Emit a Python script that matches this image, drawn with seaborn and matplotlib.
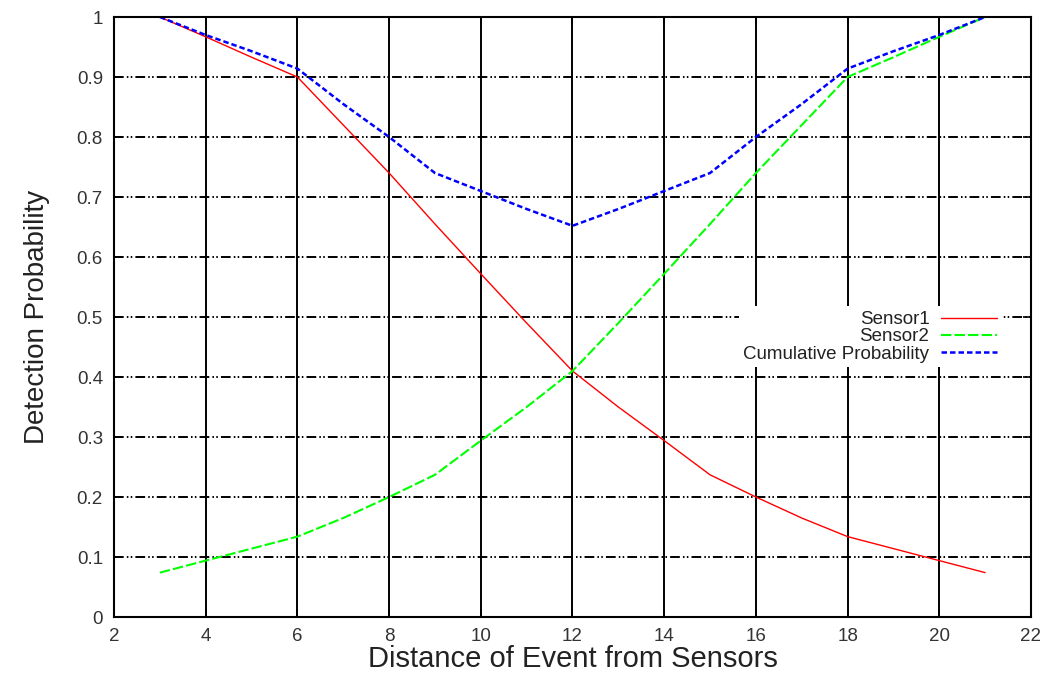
import matplotlib
matplotlib.use("Agg")
import matplotlib.pyplot as plt
import numpy as np
import pandas as pd
import seaborn as sns

sns.set_theme(style="ticks", context="notebook")
plt.rcParams["font.family"] = ["Liberation Sans", "DejaVu Sans"]

# values
distance = [3, 4, 5, 6, 7, 8, 9, 10, 11, 12, 13, 14, 15, 16, 17, 18, 19, 20, 21]
sensor1 = [1.0, 0.967, 0.933, 0.90, 0.82, 0.74, 0.655, 0.572, 0.49, 0.41,
           0.35, 0.294, 0.237, 0.20, 0.165, 0.134, 0.114, 0.094, 0.074]
sensor2 = [0.074, 0.094, 0.114, 0.134, 0.165, 0.20, 0.237, 0.294, 0.35, 0.41,
           0.49, 0.572, 0.655, 0.74, 0.82, 0.90, 0.933, 0.967, 1.0]
cumulative = [1.0, 0.97, 0.943, 0.914, 0.855, 0.80, 0.74, 0.71, 0.68, 0.652,
              0.68, 0.71, 0.74, 0.80, 0.855, 0.914, 0.943, 0.97, 1.0]

x_ticks = list(range(2, 23, 2))
y_ticks = [0, 0.1, 0.2, 0.3, 0.4, 0.5, 0.6, 0.7, 0.8, 0.9, 1]
y_tick_labels = ["0", "0.1", "0.2", "0.3", "0.4", "0.5", "0.6", "0.7", "0.8", "0.9", "1"]

data = pd.DataFrame({"distance": distance, "Sensor1": sensor1,
                     "Sensor2": sensor2, "Cumulative": cumulative})

fig = plt.figure(figsize=(10.47, 6.75), dpi=100)
ax = fig.add_axes([0.1089, 0.0859, 0.8758, 0.8889])

sns.lineplot(data=data, x="distance", y="Sensor1", ax=ax, color="#ff0000",
             linewidth=1.0, label="Sensor1")
sns.lineplot(data=data, x="distance", y="Sensor2", ax=ax, color="#00ff00",
             linewidth=1.5, linestyle=(0, (5, 1.5)), label="Sensor2")
sns.lineplot(data=data, x="distance", y="Cumulative", ax=ax, color="#0000ff",
             linewidth=1.8, linestyle=(0, (2.2, 1.2)), label="Cumulative Probability")

ax.set_xlim(2, 22)
ax.set_ylim(0, 1)
ax.set_xticks(x_ticks)
ax.set_yticks(y_ticks)
ax.set_yticklabels(y_tick_labels)

ax.xaxis.grid(True, color="black", linewidth=1.4, linestyle="-")
ax.yaxis.grid(True, color="black", linewidth=1.4,
              linestyle=(0, (5, 1.6, 0.8, 1.2, 0.8, 1.6)))
ax.set_axisbelow(True)

for s in ax.spines.values():
    s.set_visible(True)
    s.set_color("black")
    s.set_linewidth(1.5)

ax.tick_params(direction="in", length=6, width=1.2, color="black",
               top=True, right=True, labelsize=13.5, labelcolor="#333333", pad=8)

ax.set_xlabel("Distance of Event from Sensors", fontsize=21, color="#222222", labelpad=0)
ax.set_ylabel("Detection Probability", fontsize=20, color="#222222", labelpad=19)

# markerfirst=False puts the text left of the sample and right-aligns the rows
leg = ax.legend(loc="center right", bbox_to_anchor=(0.968, 0.467), markerfirst=False,
                frameon=True, facecolor="white", edgecolor="none", framealpha=1,
                fancybox=False, fontsize=13.5, handlelength=3.0, handletextpad=0.6,
                labelspacing=0.0, borderpad=0.25, borderaxespad=0)
for t in leg.get_texts():
    t.set_color("#222222")

fig.savefig("out.png", dpi=100)
